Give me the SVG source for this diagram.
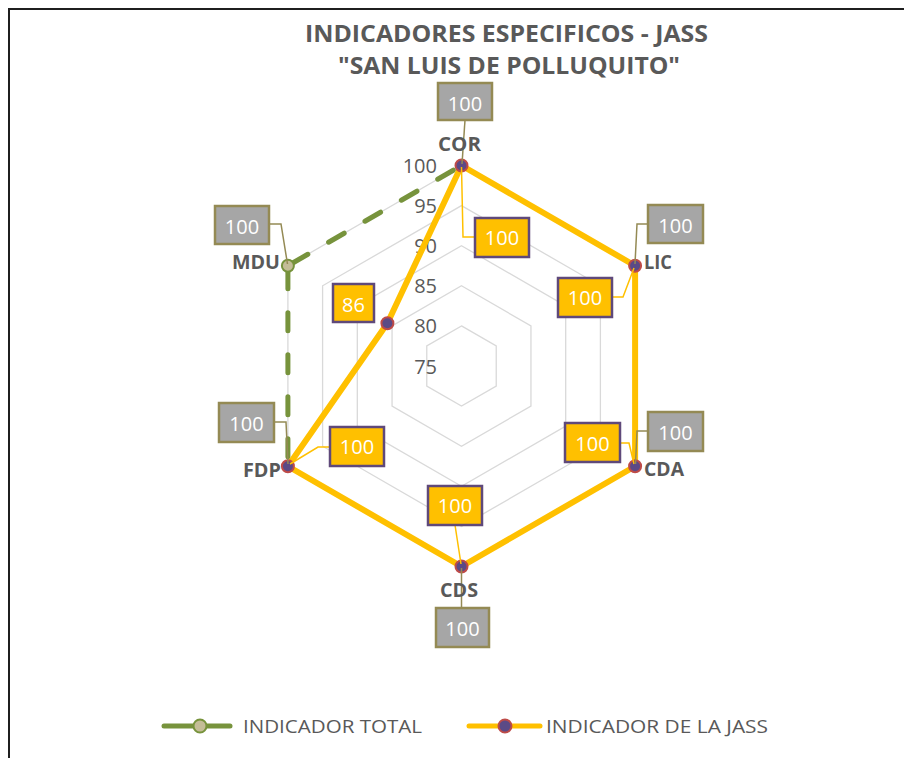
<svg xmlns="http://www.w3.org/2000/svg" width="904" height="758" viewBox="0 0 904 758">
<style>
.title{font-family:"Open Sans","Liberation Sans",sans-serif;font-weight:bold;font-size:23px;fill:#595959;text-anchor:middle}
.cat{font-family:"Open Sans","Liberation Sans",sans-serif;font-weight:bold;font-size:19px;fill:#595959}
.ax{font-family:"Open Sans","Liberation Sans",sans-serif;font-size:20px;fill:#595959;text-anchor:end}
.val{font-family:"Open Sans","Liberation Sans",sans-serif;font-size:20px;fill:#ffffff;text-anchor:middle}
.leg{font-family:"Open Sans","Liberation Sans",sans-serif;font-size:19px;fill:#595959}
.grid{fill:none;stroke:#d9d9d9;stroke-width:1.3}
.gbox{fill:#a6a6a6;stroke:#948a54;stroke-width:2.5}
.ybox{fill:#ffc000;stroke:#5f497a;stroke-width:2.5}
.yl{fill:none;stroke:#ffc000;stroke-width:1.5}
.gl{fill:none;stroke:#948a54;stroke-width:1.5}
.ymk{fill:#5b4a86;stroke:#be4b48;stroke-width:2}
.gmk{fill:#c4bd97;stroke:#77933c;stroke-width:2}
.dash{fill:none;stroke:#77933c;stroke-width:5;stroke-linecap:round;stroke-dasharray:18 24;stroke-dashoffset:-5}
</style>
<rect x="9" y="9" width="1000" height="1000" fill="#ffffff" stroke="#1f1f1f" stroke-width="2"/>
<g id="title">
<text class="title" x="506.5" y="42" textLength="403" lengthAdjust="spacingAndGlyphs">INDICADORES ESPECIFICOS - JASS</text>
<text class="title" x="509" y="74" textLength="342" lengthAdjust="spacingAndGlyphs">"SAN LUIS DE POLLUQUITO"</text>
</g>
<g id="grid">
<polygon class="grid" points="461.5,165.5 635.1,265.75 635.1,466.25 461.5,566.5 287.9,466.25 287.9,265.75"/>
<polygon class="grid" points="461.5,205.6 600.4,285.8 600.4,446.2 461.5,526.4 322.6,446.2 322.6,285.8"/>
<polygon class="grid" points="461.5,245.7 565.7,305.85 565.7,426.15 461.5,486.3 357.3,426.15 357.3,305.85"/>
<polygon class="grid" points="461.5,285.8 530.95,325.9 530.95,406.1 461.5,446.2 392.05,406.1 392.05,325.9"/>
<polygon class="grid" points="461.5,325.9 496.23,345.95 496.23,386.05 461.5,406.1 426.77,386.05 426.77,345.95"/>
</g>
<g id="axis-labels">
<text class="ax" x="437" y="173">100</text>
<text class="ax" x="437" y="213">95</text>
<text class="ax" x="437" y="253">90</text>
<text class="ax" x="437" y="293">85</text>
<text class="ax" x="437" y="333">80</text>
<text class="ax" x="437" y="373.5">75</text>
</g>
<g id="connectors">
<path class="dash" d="M287.9,265.75 L461.5,165.5"/>
<path class="dash" d="M287.9,265.75 L287.9,466.25"/>
<polygon fill="none" stroke="#ffc000" stroke-width="6" stroke-linejoin="round" points="461.5,165.5 635.1,265.75 635.1,466.25 461.5,566.5 287.9,466.25 387.4,323.2"/>
</g>
<g id="markers">
<circle class="gmk" cx="287.9" cy="265.75" r="6"/>
<circle class="ymk" cx="461.5" cy="165.5" r="6"/>
<circle class="ymk" cx="635.1" cy="265.75" r="6"/>
<circle class="ymk" cx="635.1" cy="466.25" r="6"/>
<circle class="ymk" cx="461.5" cy="566.5" r="6"/>
<circle class="ymk" cx="287.9" cy="466.25" r="6"/>
<circle class="ymk" cx="387.4" cy="323.2" r="6"/>
</g>
<g id="node-COR">
<path class="yl" d="M461.5,167 L463,237 L475,237"/>
<path class="gl" d="M465,120 L462,164"/>
<rect class="gbox" x="438" y="83" width="54" height="37"/>
<text class="val" x="465" y="110.5">100</text>
<rect class="ybox" x="475" y="218" width="54" height="39"/>
<text class="val" x="502" y="245">100</text>
<text class="cat" x="459.5" y="151" text-anchor="middle" textLength="43" lengthAdjust="spacingAndGlyphs">COR</text>
</g>
<g id="node-LIC">
<path class="yl" d="M612,297 L623,297 L634,268"/>
<path class="gl" d="M648,224 L637,224 L635,264"/>
<rect class="gbox" x="648" y="205" width="55" height="38"/>
<text class="val" x="675.5" y="232.5">100</text>
<rect class="ybox" x="558" y="278" width="54" height="39"/>
<text class="val" x="585" y="305">100</text>
<text class="cat" x="644" y="269" textLength="28" lengthAdjust="spacingAndGlyphs">LIC</text>
</g>
<g id="node-CDA">
<path class="yl" d="M620,443 L629,443 L634,464"/>
<path class="gl" d="M648,431 L637,431 L635.5,464"/>
<rect class="gbox" x="648" y="412" width="55" height="39"/>
<text class="val" x="675.5" y="439.5">100</text>
<rect class="ybox" x="565" y="423" width="55" height="39"/>
<text class="val" x="592.5" y="450.5">100</text>
<text class="cat" x="644" y="476" textLength="40" lengthAdjust="spacingAndGlyphs">CDA</text>
</g>
<g id="node-CDS">
<path class="yl" d="M455,525 L461,564"/>
<path class="gl" d="M461.5,568 L461.5,608"/>
<rect class="gbox" x="436" y="608" width="53" height="39"/>
<text class="val" x="462.5" y="635.5">100</text>
<rect class="ybox" x="428" y="486" width="54" height="39"/>
<text class="val" x="455" y="513">100</text>
<text class="cat" x="440" y="597" textLength="38" lengthAdjust="spacingAndGlyphs">CDS</text>
</g>
<g id="node-FDP">
<path class="yl" d="M330,447 L318,447 L290,464"/>
<path class="gl" d="M274,422 L286,422 L288,464"/>
<rect class="gbox" x="219" y="403" width="55" height="39"/>
<text class="val" x="246.5" y="430.5">100</text>
<rect class="ybox" x="330" y="427" width="54" height="39"/>
<text class="val" x="357" y="454">100</text>
<text class="cat" x="243" y="477" textLength="38" lengthAdjust="spacingAndGlyphs">FDP</text>
</g>
<g id="node-MDU">
<path class="gl" d="M269,224 L281,224 L287.5,264"/>
<rect class="gbox" x="215" y="206" width="54" height="38"/>
<text class="val" x="242" y="233.5">100</text>
<rect class="ybox" x="333" y="284" width="41" height="38"/>
<text class="val" x="353.5" y="311.5">86</text>
<text class="cat" x="232" y="269" textLength="48" lengthAdjust="spacingAndGlyphs">MDU</text>
</g>
<g id="legend">
<line x1="164" y1="726" x2="230" y2="726" stroke="#77933c" stroke-width="5" stroke-linecap="round"/>
<circle class="gmk" cx="200" cy="726" r="6.5"/>
<text class="leg" x="243" y="733" textLength="179" lengthAdjust="spacingAndGlyphs">INDICADOR TOTAL</text>
<line x1="469" y1="726" x2="540" y2="726" stroke="#ffc000" stroke-width="5" stroke-linecap="round"/>
<circle class="ymk" cx="505" cy="726" r="6.5"/>
<text class="leg" x="546" y="733" textLength="222" lengthAdjust="spacingAndGlyphs">INDICADOR DE LA JASS</text>
</g>
</svg>
